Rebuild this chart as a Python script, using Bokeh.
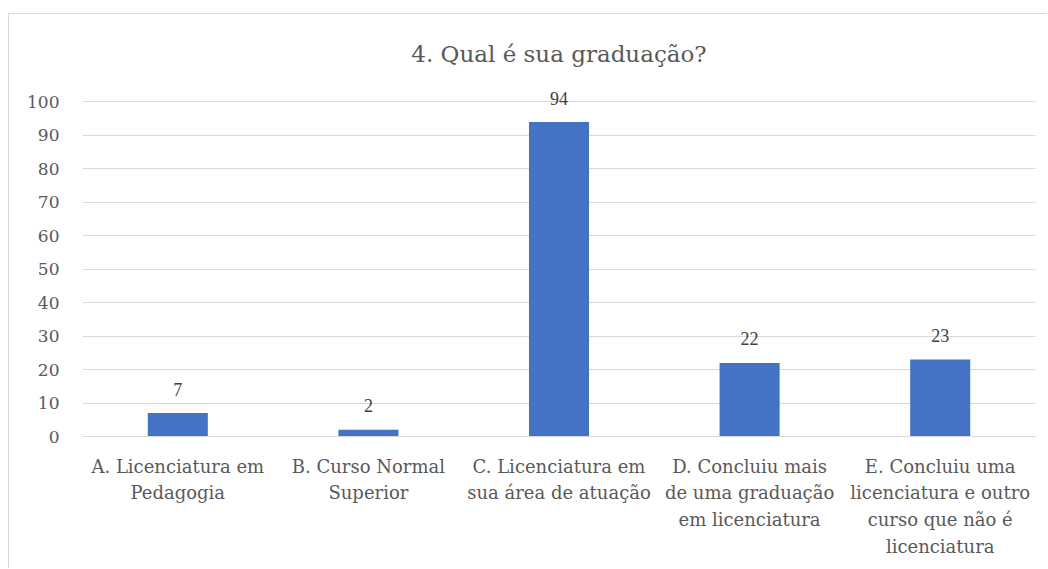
from bokeh.plotting import figure
from bokeh.models import ColumnDataSource, FixedTicker, Range1d, LabelSet
from bokeh.embed import file_html
from bokeh.resources import INLINE

category_labels = [
    "A. Licenciatura em\nPedagogia",
    "B. Curso Normal\nSuperior",
    "C. Licenciatura em\nsua área de atuação",
    "D. Concluiu mais\nde uma graduação\nem licenciatura",
    "E. Concluiu uma\nlicenciatura e outro\ncurso que não é\nlicenciatura",
]
counts = [7, 2, 94, 22, 23]
y_ticks = [0, 10, 20, 30, 40, 50, 60, 70, 80, 90, 100]

FONT = "DejaVu Serif"

src = ColumnDataSource(dict(cat=category_labels, val=counts, lab=[str(v) for v in counts]))

p = figure(
    x_range=category_labels,
    y_range=Range1d(0, 110),
    width=1039, height=555,
    output_backend="svg", toolbar_location=None,
    min_border_left=73, min_border_right=13,
    min_border_top=54, min_border_bottom=133,
    title="4. Qual é sua graduação?",
)
p.styles = {"margin-left": "8px", "margin-top": "13px",
            "border-top": "1px solid #d9d9d9", "border-left": "1px solid #d9d9d9"}
p.outline_line_color = None
p.background_fill_color = "white"
p.border_fill_color = "white"

p.title.align = "center"
p.title.text_font = FONT
p.title.text_font_size = "23px"
p.title.text_font_style = "normal"
p.title.text_color = "#595959"
p.title.standoff = 4

p.vbar(x="cat", top="val", width=0.315, source=src, color="#4472C4", line_color=None)
labels = LabelSet(x="cat", y="val", text="lab", source=src, text_align="center",
                  text_baseline="middle", y_offset=24, text_font=FONT,
                  text_font_size="18px", text_color="#404040")
p.add_layout(labels)

p.xgrid.grid_line_color = None
p.ygrid.grid_line_color = "#d9d9d9"
p.ygrid.grid_line_width = 1
p.ygrid.ticker = FixedTicker(ticks=y_ticks)

p.yaxis.ticker = FixedTicker(ticks=y_ticks)
p.yaxis.axis_line_color = None
p.yaxis.major_tick_line_color = None
p.yaxis.minor_tick_line_color = None
p.yaxis.major_label_text_font = FONT
p.yaxis.major_label_text_font_size = "17px"
p.yaxis.major_label_text_color = "#595959"
p.yaxis.major_label_standoff = 17

p.xaxis.axis_line_color = "#d9d9d9"
p.xaxis.major_tick_line_color = None
p.xaxis.minor_tick_line_color = None
p.xaxis.major_label_text_font = FONT
p.xaxis.major_label_text_font_size = "18px"
p.xaxis.major_label_text_color = "#595959"
p.xaxis.major_label_text_line_height = 1.28
p.xaxis.major_label_standoff = 13

open("out.html", "w").write(file_html(p, INLINE))
